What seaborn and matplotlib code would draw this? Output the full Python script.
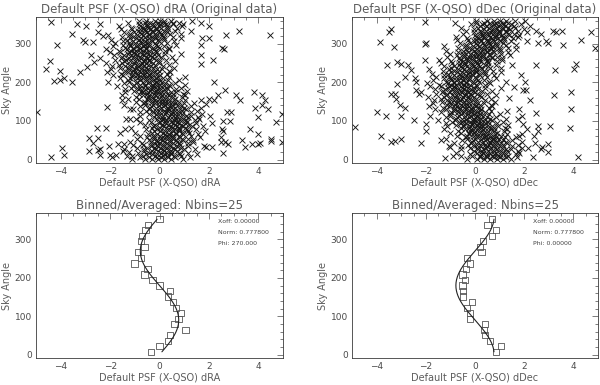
import numpy as np
import pandas as pd
import matplotlib.pyplot as plt
import seaborn as sns
from matplotlib.ticker import MultipleLocator

# ---- raw scatter: dense core, one row of offsets per sky angle ----
core_angle = [2, 6, 10, 14, 18, 22, 26, 30, 34, 38, 42, 46, 50, 54, 58, 62, 66, 70, 74, 78,
              82, 86, 90, 94, 98, 102, 106, 110, 114, 118, 122, 126, 130, 134, 138, 142, 146,
              150, 154, 158, 162, 166, 170, 174, 178, 182, 186, 190, 194, 198, 202, 206, 210,
              214, 218, 222, 226, 230, 234, 238, 242, 246, 250, 254, 258, 262, 266, 270, 274,
              278, 282, 286, 290, 294, 298, 302, 306, 310, 314, 318, 322, 326, 330, 334, 338,
              342, 346, 350, 354, 358]

core_dra = [
    [-1.12, -0.58, -0.31, -0.07, 0.19, 0.47, 0.96],
    [-0.81, -0.42, -0.10, 0.07, 0.35, 0.64, 1.23],
    [-1.31, -0.65, -0.18, 0.14, 0.32, 0.59, 0.85],
    [-0.55, -0.30, -0.11, 0.20, 0.47, 0.84, 1.50],
    [-0.89, -0.44, 0.05, 0.30, 0.46, 0.77, 1.16],
    [-1.48, -0.64, -0.31, -0.05, 0.18, 0.45, 0.69],
    [-0.61, -0.16, 0.13, 0.37, 0.62, 0.99, 1.42],
    [-0.91, -0.51, -0.23, 0.02, 0.28, 0.55, 0.86],
    [-0.36, -0.08, 0.20, 0.44, 0.70, 1.15, 1.80],
    [-1.09, -0.65, -0.31, -0.10, 0.15, 0.39, 0.81],
    [-0.71, -0.23, -0.02, 0.29, 0.53, 0.77, 1.16],
    [-1.20, -0.35, -0.09, 0.18, 0.41, 0.72, 1.35],
    [-0.43, -0.10, 0.15, 0.41, 0.68, 0.94, 1.35],
    [-0.92, -0.21, 0.00, 0.29, 0.55, 0.92, 1.14],
    [-0.50, -0.21, 0.15, 0.38, 0.53, 0.82, 1.65],
    [-0.80, -0.26, 0.01, 0.25, 0.51, 0.79, 1.28],
    [-0.48, -0.09, 0.23, 0.40, 0.68, 0.97, 1.56],
    [-0.98, -0.32, 0.15, 0.47, 0.65, 0.92, 1.18],
    [-0.22, 0.03, 0.22, 0.53, 0.80, 1.17, 1.83],
    [-0.56, -0.11, 0.38, 0.63, 0.79, 1.10, 1.49],
    [-1.15, -0.31, 0.02, 0.28, 0.51, 0.78, 1.02],
    [-0.27, 0.18, 0.47, 0.71, 0.96, 1.33, 1.76],
    [-0.57, -0.17, 0.11, 0.36, 0.62, 0.89, 1.20],
    [-0.02, 0.26, 0.54, 0.78, 1.04, 1.49, 2.14],
    [-0.77, -0.33, 0.01, 0.22, 0.47, 0.71, 1.13],
    [-0.42, 0.06, 0.27, 0.58, 0.82, 1.06, 1.45],
    [-0.95, -0.10, 0.16, 0.43, 0.66, 0.97, 1.60],
    [-0.23, 0.10, 0.35, 0.61, 0.88, 1.14, 1.55],
    [-0.78, -0.07, 0.14, 0.43, 0.69, 1.06, 1.28],
    [-0.42, -0.13, 0.23, 0.46, 0.61, 0.90, 1.73],
    [-0.79, -0.25, 0.02, 0.26, 0.52, 0.80, 1.29],
    [-0.53, -0.14, 0.18, 0.35, 0.63, 0.92, 1.51],
    [-1.09, -0.43, 0.04, 0.36, 0.54, 0.81, 1.07],
    [-0.39, -0.14, 0.05, 0.36, 0.63, 1.00, 1.66],
    [-0.79, -0.34, 0.15, 0.40, 0.56, 0.87, 1.26],
    [-1.44, -0.60, -0.27, -0.01, 0.22, 0.49, 0.73],
    [-0.62, -0.17, 0.12, 0.36, 0.61, 0.98, 1.41],
    [-0.97, -0.57, -0.29, -0.04, 0.22, 0.49, 0.80],
    [-0.47, -0.19, 0.09, 0.33, 0.59, 1.04, 1.69],
    [-1.27, -0.83, -0.49, -0.28, -0.03, 0.21, 0.63],
    [-0.95, -0.47, -0.26, 0.05, 0.29, 0.53, 0.92],
    [-1.52, -0.67, -0.41, -0.14, 0.09, 0.40, 1.03],
    [-0.82, -0.49, -0.24, 0.02, 0.29, 0.55, 0.96],
    [-1.38, -0.67, -0.46, -0.17, 0.09, 0.46, 0.68],
    [-1.04, -0.75, -0.39, -0.16, -0.01, 0.28, 1.11],
    [-1.41, -0.87, -0.60, -0.36, -0.10, 0.18, 0.67],
    [-1.16, -0.77, -0.45, -0.28, 0.00, 0.29, 0.88],
    [-1.72, -1.06, -0.59, -0.27, -0.09, 0.18, 0.44],
    [-1.02, -0.77, -0.58, -0.27, 0.00, 0.37, 1.03],
    [-1.42, -0.97, -0.48, -0.23, -0.07, 0.24, 0.63],
    [-2.08, -1.24, -0.91, -0.65, -0.42, -0.15, 0.09],
    [-1.26, -0.81, -0.52, -0.28, -0.03, 0.34, 0.77],
    [-1.61, -1.21, -0.93, -0.68, -0.42, -0.15, 0.16],
    [-1.11, -0.83, -0.55, -0.31, -0.05, 0.40, 1.05],
    [-1.90, -1.46, -1.12, -0.91, -0.66, -0.42, 0.00],
    [-1.57, -1.09, -0.88, -0.57, -0.33, -0.09, 0.30],
    [-2.12, -1.27, -1.01, -0.74, -0.51, -0.20, 0.43],
    [-1.41, -1.08, -0.83, -0.57, -0.30, -0.04, 0.37],
    [-1.95, -1.24, -1.03, -0.74, -0.48, -0.11, 0.11],
    [-1.58, -1.29, -0.93, -0.70, -0.55, -0.26, 0.57],
    [-1.92, -1.38, -1.11, -0.87, -0.61, -0.33, 0.16],
    [-1.64, -1.25, -0.93, -0.76, -0.48, -0.19, 0.40],
    [-2.17, -1.51, -1.04, -0.72, -0.54, -0.27, -0.01],
    [-1.43, -1.18, -0.99, -0.68, -0.41, -0.04, 0.62],
    [-1.79, -1.34, -0.85, -0.60, -0.44, -0.13, 0.26],
    [-2.40, -1.56, -1.23, -0.97, -0.74, -0.47, -0.23],
    [-1.53, -1.08, -0.79, -0.55, -0.30, 0.07, 0.50],
    [-1.83, -1.43, -1.15, -0.90, -0.64, -0.37, -0.06],
    [-1.28, -1.00, -0.72, -0.48, -0.22, 0.23, 0.88],
    [-2.02, -1.58, -1.24, -1.03, -0.78, -0.54, -0.12],
    [-1.65, -1.17, -0.96, -0.65, -0.41, -0.17, 0.22],
    [-2.15, -1.30, -1.04, -0.77, -0.54, -0.23, 0.40],
    [-1.39, -1.06, -0.81, -0.55, -0.28, -0.02, 0.39],
    [-1.89, -1.18, -0.97, -0.68, -0.42, -0.05, 0.17],
    [-1.48, -1.19, -0.83, -0.60, -0.45, -0.16, 0.67],
    [-1.79, -1.25, -0.98, -0.74, -0.48, -0.20, 0.29],
    [-1.47, -1.08, -0.76, -0.59, -0.31, -0.02, 0.57],
    [-1.96, -1.30, -0.83, -0.51, -0.33, -0.06, 0.20],
    [-1.19, -0.94, -0.75, -0.44, -0.17, 0.20, 0.86],
    [-1.51, -1.06, -0.57, -0.32, -0.16, 0.15, 0.54],
    [-2.08, -1.24, -0.91, -0.65, -0.42, -0.15, 0.09],
    [-1.18, -0.73, -0.44, -0.20, 0.05, 0.42, 0.85],
    [-1.45, -1.05, -0.77, -0.52, -0.26, 0.01, 0.32],
    [-0.87, -0.59, -0.31, -0.07, 0.19, 0.64, 1.29],
    [-1.57, -1.13, -0.79, -0.58, -0.33, -0.09, 0.33],
    [-1.16, -0.68, -0.47, -0.16, 0.08, 0.32, 0.71],
    [-1.63, -0.78, -0.52, -0.25, -0.02, 0.29, 0.92],
    [-0.83, -0.50, -0.25, 0.01, 0.28, 0.54, 0.95],
    [-1.29, -0.58, -0.37, -0.08, 0.18, 0.55, 0.77],
    [-0.84, -0.55, -0.19, 0.04, 0.19, 0.48, 1.31],
]

core_ddec = [
    [-0.31, 0.09, 0.37, 0.62, 0.88, 1.15, 1.46],
    [0.21, 0.49, 0.77, 1.01, 1.27, 1.72, 2.37],
    [-0.56, -0.12, 0.22, 0.43, 0.68, 0.92, 1.34],
    [-0.22, 0.26, 0.47, 0.78, 1.02, 1.26, 1.65],
    [-0.77, 0.08, 0.34, 0.61, 0.84, 1.15, 1.78],
    [-0.05, 0.28, 0.53, 0.79, 1.06, 1.32, 1.73],
    [-0.59, 0.12, 0.33, 0.62, 0.88, 1.25, 1.47],
    [-0.22, 0.07, 0.43, 0.66, 0.81, 1.10, 1.93],
    [-0.57, -0.03, 0.24, 0.48, 0.74, 1.02, 1.51],
    [-0.30, 0.09, 0.41, 0.58, 0.86, 1.15, 1.74],
    [-0.84, -0.18, 0.29, 0.61, 0.79, 1.06, 1.32],
    [-0.13, 0.12, 0.31, 0.62, 0.89, 1.26, 1.92],
    [-0.53, -0.08, 0.41, 0.66, 0.82, 1.13, 1.52],
    [-1.18, -0.34, -0.01, 0.25, 0.48, 0.75, 0.99],
    [-0.37, 0.08, 0.37, 0.61, 0.86, 1.23, 1.66],
    [-0.73, -0.33, -0.05, 0.20, 0.46, 0.73, 1.04],
    [-0.23, 0.05, 0.33, 0.57, 0.83, 1.28, 1.93],
    [-1.02, -0.58, -0.24, -0.03, 0.22, 0.46, 0.88],
    [-0.70, -0.22, -0.01, 0.30, 0.54, 0.78, 1.17],
    [-1.27, -0.42, -0.16, 0.11, 0.34, 0.65, 1.28],
    [-0.58, -0.25, 0.00, 0.26, 0.53, 0.79, 1.20],
    [-1.14, -0.43, -0.22, 0.07, 0.33, 0.70, 0.92],
    [-0.79, -0.50, -0.14, 0.09, 0.24, 0.53, 1.36],
    [-1.17, -0.63, -0.36, -0.12, 0.14, 0.42, 0.91],
    [-0.92, -0.53, -0.21, -0.04, 0.24, 0.53, 1.12],
    [-1.49, -0.83, -0.36, -0.04, 0.14, 0.41, 0.67],
    [-0.79, -0.54, -0.35, -0.04, 0.23, 0.60, 1.26],
    [-1.19, -0.74, -0.25, 0.00, 0.16, 0.47, 0.86],
    [-1.84, -1.00, -0.67, -0.41, -0.18, 0.09, 0.33],
    [-1.02, -0.57, -0.28, -0.04, 0.21, 0.58, 1.01],
    [-1.37, -0.97, -0.69, -0.44, -0.18, 0.09, 0.40],
    [-0.86, -0.58, -0.30, -0.06, 0.20, 0.65, 1.30],
    [-1.64, -1.20, -0.86, -0.65, -0.40, -0.16, 0.26],
    [-1.31, -0.83, -0.62, -0.31, -0.07, 0.17, 0.56],
    [-1.86, -1.01, -0.75, -0.48, -0.25, 0.06, 0.69],
    [-1.15, -0.82, -0.57, -0.31, -0.04, 0.22, 0.63],
    [-1.70, -0.99, -0.78, -0.49, -0.23, 0.14, 0.36],
    [-1.33, -1.04, -0.68, -0.45, -0.30, -0.01, 0.82],
    [-1.68, -1.14, -0.87, -0.63, -0.37, -0.09, 0.40],
    [-1.40, -1.01, -0.69, -0.52, -0.24, 0.05, 0.64],
    [-1.93, -1.27, -0.80, -0.48, -0.30, -0.03, 0.23],
    [-1.20, -0.95, -0.76, -0.45, -0.18, 0.19, 0.85],
    [-1.57, -1.12, -0.63, -0.38, -0.22, 0.09, 0.48],
    [-2.18, -1.34, -1.01, -0.75, -0.52, -0.25, -0.01],
    [-1.32, -0.87, -0.58, -0.34, -0.09, 0.28, 0.71],
    [-1.63, -1.23, -0.95, -0.70, -0.44, -0.17, 0.14],
    [-1.09, -0.81, -0.53, -0.29, -0.03, 0.42, 1.07],
    [-1.83, -1.39, -1.05, -0.84, -0.59, -0.35, 0.07],
    [-1.46, -0.98, -0.77, -0.46, -0.22, 0.02, 0.41],
    [-1.96, -1.11, -0.85, -0.58, -0.35, -0.04, 0.59],
    [-1.20, -0.87, -0.62, -0.36, -0.09, 0.17, 0.58],
    [-1.70, -0.99, -0.78, -0.49, -0.23, 0.14, 0.36],
    [-1.28, -0.99, -0.63, -0.40, -0.25, 0.04, 0.87],
    [-1.58, -1.04, -0.77, -0.53, -0.27, 0.01, 0.50],
    [-1.26, -0.87, -0.55, -0.38, -0.10, 0.19, 0.78],
    [-1.75, -1.09, -0.62, -0.30, -0.12, 0.15, 0.41],
    [-0.98, -0.73, -0.54, -0.23, 0.04, 0.41, 1.07],
    [-1.30, -0.85, -0.36, -0.11, 0.05, 0.36, 0.75],
    [-1.88, -1.04, -0.71, -0.45, -0.22, 0.05, 0.29],
    [-0.98, -0.53, -0.24, 0.00, 0.25, 0.62, 1.05],
    [-1.25, -0.85, -0.57, -0.32, -0.06, 0.21, 0.52],
    [-0.67, -0.39, -0.11, 0.13, 0.39, 0.84, 1.49],
    [-1.38, -0.94, -0.60, -0.39, -0.14, 0.10, 0.52],
    [-0.98, -0.50, -0.29, 0.02, 0.26, 0.50, 0.89],
    [-1.45, -0.60, -0.34, -0.07, 0.16, 0.47, 1.10],
    [-0.67, -0.34, -0.09, 0.17, 0.44, 0.70, 1.11],
    [-1.15, -0.44, -0.23, 0.06, 0.32, 0.69, 0.91],
    [-0.72, -0.43, -0.07, 0.16, 0.31, 0.60, 1.43],
    [-1.01, -0.47, -0.20, 0.04, 0.30, 0.58, 1.07],
    [-0.68, -0.29, 0.03, 0.20, 0.48, 0.77, 1.36],
    [-1.16, -0.50, -0.03, 0.29, 0.47, 0.74, 1.00],
    [-0.37, -0.12, 0.07, 0.38, 0.65, 1.02, 1.68],
    [-0.69, -0.24, 0.25, 0.50, 0.66, 0.97, 1.36],
    [-1.26, -0.42, -0.09, 0.17, 0.40, 0.67, 0.91],
    [-0.36, 0.09, 0.38, 0.62, 0.87, 1.24, 1.67],
    [-0.62, -0.22, 0.06, 0.31, 0.57, 0.84, 1.15],
    [-0.03, 0.25, 0.53, 0.77, 1.03, 1.48, 2.13],
    [-0.73, -0.29, 0.05, 0.26, 0.51, 0.75, 1.17],
    [-0.32, 0.16, 0.37, 0.68, 0.92, 1.16, 1.55],
    [-0.79, 0.06, 0.32, 0.59, 0.82, 1.13, 1.76],
    [0.00, 0.33, 0.58, 0.84, 1.11, 1.37, 1.78],
    [-0.48, 0.23, 0.44, 0.73, 0.99, 1.36, 1.58],
    [-0.05, 0.24, 0.60, 0.83, 0.98, 1.27, 2.10],
    [-0.35, 0.19, 0.46, 0.70, 0.96, 1.24, 1.73],
    [-0.04, 0.35, 0.67, 0.84, 1.12, 1.41, 2.00],
    [-0.55, 0.11, 0.58, 0.90, 1.08, 1.35, 1.61],
    [0.19, 0.44, 0.63, 0.94, 1.21, 1.58, 2.24],
    [-0.18, 0.27, 0.76, 1.01, 1.17, 1.48, 1.87],
    [-0.81, 0.03, 0.36, 0.62, 0.85, 1.12, 1.36],
    [0.02, 0.47, 0.76, 1.00, 1.25, 1.62, 2.05],
]

# ---- raw scatter: isolated points away from the core ----
out_dra_x = [-4.97, -4.38, -3.95, -3.88, -4.59, -4.42, -4.40, -4.14, -4.26, -4.04, -4.04, -3.88,
             -3.53, -3.56, -3.33, -3.22, -3.10, -3.01, -2.92, -2.64, -2.96, -2.71, -2.78, -2.85,
             -2.71, -2.55, -2.48, -2.48, -2.40, -2.85, -2.40, -2.16, -2.14, -2.03, -2.00, -1.92,
             -1.75, -1.45, -1.44, -1.41, -2.4, -2.5, -2.3, -1.37, -1.18, -1.2, -1.5, -1.6, -1.7,
             -1.25, -1.1,
             4.95, 4.48, 4.71, 4.95, 4.52, 4.52, 4.27, 4.41, 4.14, 4.16, 4.0, 4.0, 4.07, 3.82,
             3.86, 3.97, 3.66, 3.73, 3.48, 3.34, 3.21, 3.25, 3.11, 2.90, 2.84, 2.70, 2.66, 2.74,
             2.56, 2.52, 2.59, 2.52, 2.60, 2.49, 2.49, 2.66, 2.79, 2.56, 2.15, 2.01, 2.01, 1.67,
             1.74, 1.67, 1.67, 1.67, 2.19, 2.36, 2.01, 2.12, 1.88, 2.22, 1.88, 2.05]
out_dra_y = [123, 6, 29, 12, 235, 254, 356, 296, 203, 229, 207, 212,
             326, 200, 350, 228, 309, 304, 239, 252, 347, 304, 270, 55,
             42, 81, 55, 25, 26, 23, 13, 81, 136, 35, 13, 6,
             13, 41, 28, 80, 352, 330, 321, 104, 104, 131, 155, 68, 40,
             20, 8,
             46, 323, 97, 117, 49, 54, 153, 131, 166, 142, 111, 67, 42, 175,
             133, 41, 78, 39, 32, 51, 333, 153, 166, 123, 99, 323, 179, 123,
             99, 80, 73, 290, 287, 58, 45, 45, 41, 16, 258, 315, 347, 354,
             315, 296, 272, 248, 200, 166, 157, 32, 32, 153, 144, 114]

out_ddec_x = [-4.89, -3.97, -3.81, -3.61, -3.43, -3.27, -3.00, -3.51, -3.41, -3.88, -3.30, -3.57,
              -3.41, -3.24, -3.16, -3.00, -3.20, -3.03, -3.00, -2.86, -2.86, -3.18, -2.73, -2.59,
              -2.50, -2.39, -2.39, -2.26, -2.19, -2.05, -2.03, -1.98, -2.03, -2.01, -1.99, -1.24,
              -0.9, -1.04, -1.0, -1.38, -2.46,
              4.19, 4.86, 4.70, 4.30, 4.03, 4.09, 3.89, 3.92, 3.86, 3.53, 3.58, 3.18, 3.28, 3.24,
              3.22, 3.05, 2.95, 2.95, 2.68, 2.70, 2.47, 2.57, 2.88, 2.95, 2.47, 2.54, 2.54, 2.47,
              2.43, 2.14, 2.24, 2.03, 1.97, 2.07, 1.93, 1.80, 1.97, 1.73, 2.11, 1.80, 2.41, 2.74,
              1.39, 1.26, 1.86, 1.59]
out_ddec_y = [84, 123, 62, 114, 45, 49, 54, 330, 337, 304, 291, 245,
              170, 170, 252, 248, 156, 140, 112, 134, 213, 196, 245, 231,
              103, 200, 181, 170, 43, 356, 300, 303, 257, 92, 73, 4,
              8, 36, 33, 51, 212,
              6, 289, 330, 309, 235, 248, 176, 131, 81, 332, 296, 334, 330, 231,
              168, 86, 41, 19, 28, 326, 334, 303, 307, 302, 244, 86, 73, 120,
              44, 29, 153, 200, 181, 181, 112, 131, 92, 105, 80, 62, 62, 32,
              159, 200, 218, 188]

# ---- binned / averaged values (Nbins=25) ----
bin_angle = [7.2, 21.6, 36.0, 50.4, 64.8, 79.2, 93.6, 108.0, 122.4, 136.8, 151.2, 165.6, 180.0,
             194.4, 208.8, 223.2, 237.6, 252.0, 266.4, 280.8, 295.2, 309.6, 324.0, 338.4, 352.8]
bin_dra = [-0.34, 0.0, 0.35, 0.43, 1.05, 0.61, 0.77, 0.88, 0.66, 0.54, 0.34, 0.41, 0.0,
           -0.28, -0.61, -0.49, -1.01, -0.76, -0.88, -0.61, -0.74, -0.70, -0.57, -0.47, 0.0]
bin_ddec = [0.84, 1.07, 0.61, 0.42, 0.36, 0.42, -0.22, -0.22, -0.31, -0.11, -0.49, -0.49, -0.51,
            -0.42, -0.51, -0.38, -0.22, -0.31, 0.26, 0.19, 0.31, 0.69, 0.86, 0.51, 0.69]

# fit parameters printed on the plots
xoff = 0.0
norm = 0.7778
phi_dra = 270.0
phi_ddec = 0.0
fit_labels = [['Xoff: 0.00000', 'Norm: 0.777800', 'Phi: 270.000'],
              ['Xoff: 0.00000', 'Norm: 0.777800', 'Phi: 0.00000']]

title_top = ['Default PSF (X-QSO) dRA (Original data)', 'Default PSF (X-QSO) dDec (Original data)']
xlabels = ['Default PSF (X-QSO) dRA', 'Default PSF (X-QSO) dDec']


def core_frame(rows):
    xs, ys = [], []
    for ang, vals in zip(core_angle, rows):
        xs += vals
        ys += [ang] * len(vals)
    return pd.DataFrame({'d': xs, 'angle': ys})


df_ra = pd.concat([core_frame(core_dra), pd.DataFrame({'d': out_dra_x, 'angle': out_dra_y})])
df_dec = pd.concat([core_frame(core_ddec), pd.DataFrame({'d': out_ddec_x, 'angle': out_ddec_y})])
df_bin = pd.DataFrame({'angle': bin_angle, 'dra': bin_dra, 'ddec': bin_ddec})

# model curve from the printed fit parameters
curve_angle = np.linspace(bin_angle[0], bin_angle[-1], 200)
df_fit = pd.DataFrame({
    'angle': curve_angle,
    'dra': xoff + norm * np.cos(np.radians(curve_angle + phi_dra)),
    'ddec': xoff + norm * np.cos(np.radians(curve_angle + phi_ddec)),
})

sns.set_style('white')
plt.rcParams['font.family'] = ['DejaVu Sans']
ink = '#5c5c5c'
plt.rcParams.update({'text.color': ink, 'axes.labelcolor': ink, 'xtick.color': '#4a4a4a',
                     'ytick.color': '#4a4a4a', 'axes.edgecolor': '#3a3a3a',
                     'axes.linewidth': 0.6})

fig = plt.figure(figsize=(6, 3.85), dpi=100)
ax1 = fig.add_axes([0.06, 0.5766, 0.4117, 0.379])
ax2 = fig.add_axes([0.5867, 0.5766, 0.41, 0.379])
ax3 = fig.add_axes([0.06, 0.0701, 0.4117, 0.3766])
ax4 = fig.add_axes([0.5867, 0.0701, 0.41, 0.3766])

for ax, df in [(ax1, df_ra), (ax2, df_dec)]:
    sns.scatterplot(data=df, x='d', y='angle', marker='x', s=18, color='#151515',
                    linewidth=0.65, ax=ax, legend=False)

for k, (ax, col) in enumerate([(ax3, 'dra'), (ax4, 'ddec')]):
    sns.scatterplot(data=df_bin, x=col, y='angle', marker='s', s=20, facecolor='none',
                    edgecolor='#555555', linewidth=0.6, ax=ax, legend=False)
    sns.lineplot(data=df_fit, x=col, y='angle', sort=False, estimator=None, color='#222222',
                 linewidth=0.8, ax=ax, legend=False)
    for j, txt in enumerate(fit_labels[k]):
        ax.text(0.735, 0.94 - 0.075 * j, txt, transform=ax.transAxes, fontsize=4.5,
                va='center', color='#444444')

for i, ax in enumerate([ax1, ax2, ax3, ax4]):
    ax.set_xlim(-5, 5)
    ax.set_ylim(-9, 369)
    ax.xaxis.set_major_locator(MultipleLocator(2))
    ax.xaxis.set_minor_locator(MultipleLocator(0.5))
    ax.yaxis.set_major_locator(MultipleLocator(100))
    ax.yaxis.set_minor_locator(MultipleLocator(20))
    ax.tick_params(which='both', direction='in', top=True, right=True, width=0.5,
                   labelsize=6.5, pad=3)
    ax.tick_params(which='major', length=4)
    ax.tick_params(which='minor', length=2)
    ax.set_xlabel(xlabels[i % 2], fontsize=7, labelpad=1)
    ax.set_ylabel('Sky Angle', fontsize=7, labelpad=2)
    if i < 2:
        ax.set_title(title_top[i], fontsize=8.5, pad=3)
    else:
        ax.set_title('Binned/Averaged: Nbins=25', fontsize=8.5, pad=3)

fig.savefig('out.png', dpi=100)
